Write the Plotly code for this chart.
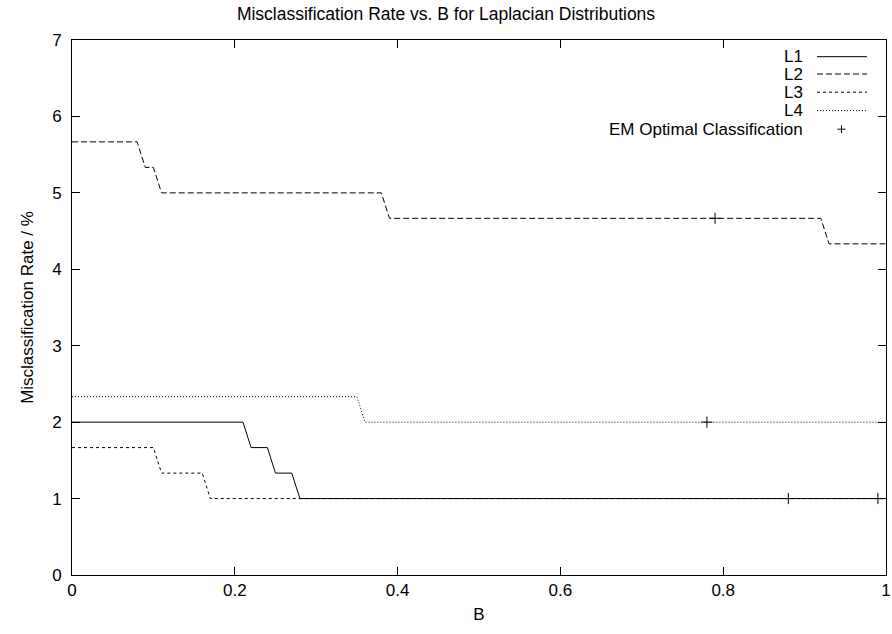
import plotly.graph_objects as go

# ---- data ----
L1_x = [0.0, 0.21, 0.22, 0.24, 0.25, 0.27, 0.28, 1.0]
L1_y = [2.0, 2.0, 1.667, 1.667, 1.333, 1.333, 1.0, 1.0]

L2_x = [0.0, 0.08, 0.09, 0.10, 0.11, 0.38, 0.39, 0.92, 0.93, 1.0]
L2_y = [5.667, 5.667, 5.333, 5.333, 5.0, 5.0, 4.667, 4.667, 4.333, 4.333]

L3_x = [0.0, 0.10, 0.11, 0.16, 0.17, 1.0]
L3_y = [1.667, 1.667, 1.333, 1.333, 1.0, 1.0]

L4_x = [0.0, 0.35, 0.36, 1.0]
L4_y = [2.333, 2.333, 2.0, 2.0]

EM_x = [0.79, 0.78, 0.88, 0.99]
EM_y = [4.667, 2.0, 1.0, 1.0]

x_ticks = [0, 0.2, 0.4, 0.6, 0.8, 1]
x_ticktext = ["0", "0.2", "0.4", "0.6", "0.8", "1"]
y_ticks = [0, 1, 2, 3, 4, 5, 6, 7]

series_names = ["L1", "L2", "L3", "L4", "EM Optimal Classification"]
dashes = ["solid", "6px,3px", "3px,3px", "1px,2px"]

FONT = "Liberation Sans, Arial, Helvetica, sans-serif"
FS = 17
FS_TITLE = 17.5
FS_LEG = 17

W, H = 892, 634
ML, MR, MT, MB = 72, 6, 40, 59
PW, PH = W - ML - MR, H - MT - MB


def px_x(p):
    return (p - ML) / PW


def px_y(p):
    return (H - MB - p) / PH


fig = go.Figure()
for xs, ys, nm, d in zip([L1_x, L2_x, L3_x, L4_x], [L1_y, L2_y, L3_y, L4_y],
                         series_names[:4], dashes):
    fig.add_trace(go.Scatter(x=xs, y=ys, mode="lines", name=nm,
                             line=dict(color="black", width=1, dash=d),
                             showlegend=False))
fig.add_trace(go.Scatter(x=EM_x, y=EM_y, mode="markers", name=series_names[4],
                         marker=dict(symbol="cross-thin", size=8,
                                     line=dict(color="black", width=1)),
                         showlegend=False))

# ---- custom gnuplot-style legend (text right, sample to its right) ----
row_y = [px_y(p) for p in [56.7, 74.0, 92.2, 110.6, 129.2]]
text_x = px_x(804)
samp_x0, samp_x1, mark_x = px_x(817), px_x(867), px_x(841.5)
annotations = []
shapes = []
for i, nm in enumerate(series_names):
    annotations.append(dict(x=text_x, y=row_y[i], xref="paper", yref="paper",
                            text=nm, showarrow=False, xanchor="right",
                            yanchor="middle", borderpad=0,
                            font=dict(family=FONT, size=FS_LEG, color="black")))
    if i < 4:
        shapes.append(dict(type="line", xref="paper", yref="paper",
                           x0=samp_x0, x1=samp_x1, y0=row_y[i], y1=row_y[i],
                           line=dict(color="black", width=1, dash=dashes[i])))
    else:
        shapes.append(dict(type="line", xref="paper", yref="paper",
                           xsizemode="pixel", ysizemode="pixel",
                           xanchor=mark_x, yanchor=row_y[i],
                           x0=-4, x1=4, y0=0, y1=0,
                           line=dict(color="black", width=1)))
        shapes.append(dict(type="line", xref="paper", yref="paper",
                           xsizemode="pixel", ysizemode="pixel",
                           xanchor=mark_x, yanchor=row_y[i],
                           x0=0, x1=0, y0=-4, y1=4,
                           line=dict(color="black", width=1)))

axis_common = dict(showline=True, linecolor="black", linewidth=1, mirror="ticks",
                   ticks="inside", ticklen=8, tickwidth=1, tickcolor="black",
                   showgrid=False, zeroline=False, ticklabeloverflow="allow",
                   automargin=False,
                   tickfont=dict(family=FONT, size=FS, color="black"))

fig.update_layout(
    width=W, height=H,
    margin=dict(l=ML, r=MR, t=MT, b=MB),
    paper_bgcolor="white", plot_bgcolor="white",
    title=dict(text="Misclassification Rate vs. B for Laplacian Distributions",
               x=0.5, xanchor="center", y=1 - 14 / H, yanchor="middle",
               font=dict(family=FONT, size=FS_TITLE, color="black")),
    xaxis=dict(range=[0, 1], tickvals=x_ticks, ticktext=x_ticktext,
               title=dict(text="B", font=dict(family=FONT, size=FS, color="black"),
                          standoff=8),
               **axis_common),
    yaxis=dict(range=[0, 7], tickvals=y_ticks, ticklabelstandoff=6,
               title=dict(text="Misclassification Rate / %",
                          font=dict(family=FONT, size=FS, color="black"),
                          standoff=14),
               **axis_common),
    annotations=annotations,
    shapes=shapes,
    showlegend=False,
)

fig.write_html("out.html")
